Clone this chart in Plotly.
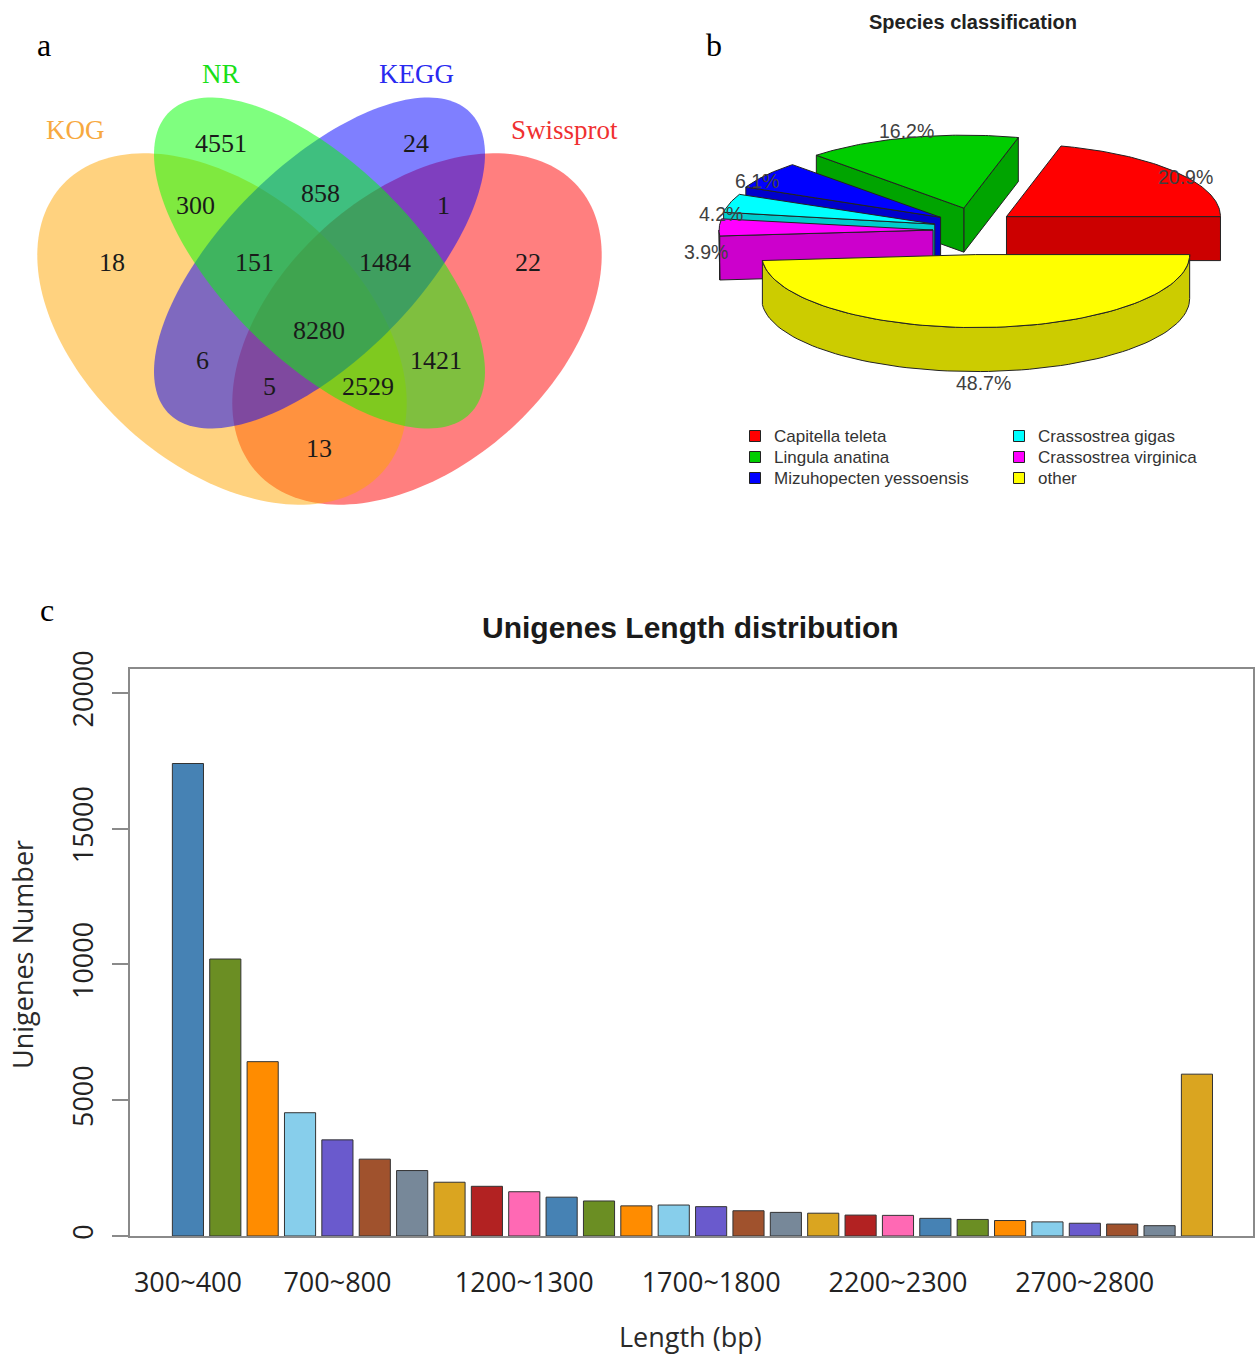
import numpy as np
import plotly.graph_objects as go

W, H = 1257, 1357

# ---------------- data ----------------
# (a) Venn diagram of annotated unigenes
venn_sets = ["KOG", "NR", "KEGG", "Swissprot"]
venn_regions = ["NR", "KEGG", "KOG&NR", "NR&KEGG", "KEGG&Swissprot",
                "KOG", "KOG&NR&KEGG", "NR&KEGG&Swissprot", "Swissprot",
                "KOG&NR&KEGG&Swissprot", "KOG&KEGG", "NR&Swissprot",
                "KOG&KEGG&Swissprot", "KOG&NR&Swissprot", "KOG&Swissprot"]
venn_counts = [4551, 24, 300, 858, 1, 18, 151, 1484, 22, 8280, 6, 1421, 5, 2529, 13]

# (b) species classification
species = ["Capitella teleta", "Lingula anatina", "Mizuhopecten yessoensis",
           "Crassostrea gigas", "Crassostrea virginica", "other"]
species_pct = [20.9, 16.2, 6.1, 4.2, 3.9, 48.7]

# (c) unigene length distribution
length_bins = [f"{s}~{s + 100}" for s in range(300, 3000, 100)] + [">3000"]
unigene_counts = [17400, 10200, 6420, 4540, 3540, 2830, 2410, 1980, 1830, 1630,
                  1430, 1290, 1110, 1140, 1080, 930, 870, 840, 770, 760,
                  650, 610, 570, 520, 470, 440, 380, 5960]
shown_ticks = ["300~400", "700~800", "1200~1300", "1700~1800", "2200~2300", "2700~2800"]
y_ticks = [0, 5000, 10000, 15000, 20000]

# ---------------- styles ----------------
bar_palette = ["#4682B4", "#6B8E23", "#FF8C00", "#87CEEB", "#6A5ACD",
               "#A0522D", "#778899", "#DAA520", "#B22222", "#FF69B4"]
venn_fill = {"KOG": "rgba(255,165,0,0.5)", "NR": "rgba(0,255,0,0.5)",
             "KEGG": "rgba(0,0,255,0.5)", "Swissprot": "rgba(255,0,0,0.5)"}
venn_text_col = {"KOG": "#F7A940", "NR": "#18E018", "KEGG": "#2A2AF0", "Swissprot": "#F03030"}
pie_top = ["#FF0000", "#00CD00", "#0000FF", "#00FFFF", "#FF00FF", "#FFFF00"]
pie_side = ["#CC0000", "#00A400", "#0000CC", "#00CCCC", "#CC00CC", "#CCCC00"]

SERIF = "Liberation Serif"
SANS = "Liberation Sans"
OPEN = "Open Sans"

fig = go.Figure()
annotations = []
shapes = []

# ---------------- (a) Venn diagram ----------------
# ellipse layout on the page: centre x, centre y, semi-major, semi-minor, tilt (deg, y down)
venn_ellipses = {
    "KOG": (222, 329, 215, 137, 41.6),
    "NR": (319.5, 263, 213, 97, 45),
    "KEGG": (319.5, 263, 213, 97, -45),
    "Swissprot": (417, 329, 215, 137, -41.6),
}


def ellipse_path(cx, cy, a, b, tilt, n=180):
    t = np.linspace(0, 2 * np.pi, n)
    r = np.deg2rad(tilt)
    x = cx + a * np.cos(t) * np.cos(r) - b * np.sin(t) * np.sin(r)
    y = cy + a * np.cos(t) * np.sin(r) + b * np.sin(t) * np.cos(r)
    pts = [f"{u:.2f},{v:.2f}" for u, v in zip(x, y)]
    return "M " + " L ".join(pts) + " Z"


for name in ["Swissprot", "KOG", "KEGG", "NR"]:
    shapes.append(dict(type="path", path=ellipse_path(*venn_ellipses[name]),
                       xref="x3", yref="y3", fillcolor=venn_fill[name],
                       line=dict(width=0), layer="below"))

venn_label_pos = {
    "NR": (221, 143), "KEGG": (416, 143), "KOG&NR": (195, 205), "NR&KEGG": (320, 193),
    "KEGG&Swissprot": (443, 205), "KOG": (112, 262), "KOG&NR&KEGG": (254, 262),
    "NR&KEGG&Swissprot": (385, 262), "Swissprot": (528, 262),
    "KOG&NR&KEGG&Swissprot": (319, 330), "KOG&KEGG": (202, 360),
    "NR&Swissprot": (436, 360), "KOG&KEGG&Swissprot": (269, 386),
    "KOG&NR&Swissprot": (368, 386), "KOG&Swissprot": (319, 448),
}
for reg, cnt in zip(venn_regions, venn_counts):
    x, y = venn_label_pos[reg]
    annotations.append(dict(x=x, y=y, xref="x3", yref="y3", text=str(cnt), showarrow=False,
                            font=dict(family=SERIF, size=26, color="#1a1a1a")))

venn_set_pos = {"KOG": (75, 130), "NR": (221, 74), "KEGG": (416, 74), "Swissprot": (564, 130)}
for s in venn_sets:
    x, y = venn_set_pos[s]
    annotations.append(dict(x=x, y=y, xref="x3", yref="y3", text=s, showarrow=False,
                            font=dict(family=SERIF, size=27, color=venn_text_col[s])))

# ---------------- (b) 3D exploded pie ----------------
PIE = dict(cx=974, cy=231, a=214, b=73, h=44, ex=41, ey=23.6)


def rim(cx, cy, t):
    t = np.deg2rad(t)
    return cx + PIE["a"] * np.cos(t), cy - PIE["b"] * np.sin(t)


angles = np.concatenate([[0], np.cumsum(species_pct) / sum(species_pct) * 360])
slices = []
for i in range(len(species)):
    s, e = angles[i], angles[i + 1]
    mid = np.deg2rad((s + e) / 2)
    cx = PIE["cx"] + PIE["ex"] * np.cos(mid)
    cy = PIE["cy"] - PIE["ey"] * np.sin(mid)
    slices.append((np.sin(mid), i, s, e, cx, cy))

# paint from back to front
for _, i, s, e, cx, cy in sorted(slices, key=lambda v: -v[0]):
    h = PIE["h"]
    polys = []
    # radial faces that face the viewer
    for ang, vis in ((s, np.cos(np.deg2rad(s)) > 0), (e, np.cos(np.deg2rad(e)) < 0)):
        if vis:
            rx, ry = rim(cx, cy, ang)
            polys.append(([cx, rx, rx, cx, cx], [cy, ry, ry + h, cy + h, cy]))
    # outer curved wall on the front half
    lo, hi = max(s, 180), min(e, 360)
    if hi > lo:
        t = np.linspace(lo, hi, 80)
        ux, uy = rim(cx, cy, t)
        px = np.concatenate([ux, ux[::-1], ux[:1]])
        py = np.concatenate([uy, uy[::-1] + h, uy[:1]])
        polys.append((px, py))
    for px, py in polys:
        fig.add_trace(go.Scatter(x=px, y=py, xaxis="x2", yaxis="y2", mode="lines",
                                 fill="toself", fillcolor=pie_side[i],
                                 line=dict(color="#222222", width=1),
                                 hoverinfo="skip", showlegend=False))
    t = np.linspace(s, e, 80)
    ux, uy = rim(cx, cy, t)
    fig.add_trace(go.Scatter(x=np.concatenate([[cx], ux, [cx]]),
                             y=np.concatenate([[cy], uy, [cy]]),
                             xaxis="x2", yaxis="y2", mode="lines", fill="toself",
                             fillcolor=pie_top[i], line=dict(color="#222222", width=1),
                             hoverinfo="skip", showlegend=False))

pct_label_pos = [(1185, 177), (906, 131), (757, 181), (721, 214), (706, 252), (983, 383)]
for p, (x, y) in zip(species_pct, pct_label_pos):
    annotations.append(dict(x=x, y=y, xref="x2", yref="y2", text=f"{p}%", showarrow=False,
                            font=dict(family=SANS, size=19.5, color="#404040")))

annotations.append(dict(x=973, y=22, xref="x2", yref="y2", text="<b>Species classification</b>",
                        showarrow=False, font=dict(family=SANS, size=20, color="#222222")))

# legend, two columns
leg_pos = [(755, 436), (755, 457), (755, 478), (1019, 436), (1019, 457), (1019, 478)]
fig.add_trace(go.Scatter(x=[p[0] for p in leg_pos], y=[p[1] for p in leg_pos],
                         xaxis="x2", yaxis="y2", mode="markers",
                         marker=dict(symbol="square", size=11, color=pie_top,
                                     line=dict(color="#222222", width=1)),
                         hoverinfo="skip", showlegend=False))
for name, (x, y) in zip(species, leg_pos):
    annotations.append(dict(x=x + 17, y=y, xref="x2", yref="y2", text=name, showarrow=False,
                            xanchor="left", font=dict(family=SANS, size=17, color="#333333")))

# ---------------- (c) bar chart ----------------
fig.add_trace(go.Bar(x=length_bins, y=unigene_counts,
                     marker=dict(color=[bar_palette[k % len(bar_palette)]
                                        for k in range(len(length_bins))],
                                 line=dict(color="#333333", width=1)),
                     hoverinfo="skip", showlegend=False))

annotations += [
    dict(x=690, y=627, xref="x3", yref="y3", text="<b>Unigenes Length distribution</b>",
         showarrow=False, font=dict(family=SANS, size=30, color="#1a1a1a")),
    dict(x=22, y=955, xref="x3", yref="y3", text="Unigenes Number", textangle=-90,
         showarrow=False, font=dict(family=OPEN, size=27, color="#2a2a2a")),
    dict(x=690, y=1336, xref="x3", yref="y3", text="Length (bp)",
         showarrow=False, font=dict(family=OPEN, size=27, color="#2a2a2a")),
]

# panel letters
for letter, (x, y) in zip("abc", [(44, 45), (714, 45), (47, 610)]):
    annotations.append(dict(x=x, y=y, xref="x3", yref="y3", text=letter, showarrow=False,
                            font=dict(family=SERIF, size=32, color="#000000")))

frame = "#8a8a8a"
fig.update_layout(
    width=W, height=H, margin=dict(l=0, r=0, t=0, b=0, autoexpand=False),
    paper_bgcolor="white", plot_bgcolor="rgba(0,0,0,0)",
    bargap=0.167,
    xaxis=dict(domain=[130 / W, 1253 / W], range=[-1.55, 28.5], type="category",
               tickvals=shown_ticks, ticktext=shown_ticks, showline=True, mirror=True,
               linecolor=frame, linewidth=2, ticks="outside", ticklen=22,
               tickcolor="rgba(0,0,0,0)", showgrid=False, zeroline=False, automargin=False,
               tickfont=dict(family=OPEN, size=27, color="#222222"), fixedrange=True),
    yaxis=dict(domain=[1 - 1236 / H, 1 - 669 / H], range=[0, 20880],
               tickvals=y_ticks, ticktext=[str(v) for v in y_ticks], tickangle=-90,
               showline=True, mirror=True, linecolor=frame, linewidth=2,
               ticks="outside", ticklen=16, tickwidth=2, tickcolor=frame,
               ticklabelstandoff=8, automargin=False,
               showgrid=False, zeroline=False,
               tickfont=dict(family=OPEN, size=27, color="#222222"), fixedrange=True),
    xaxis2=dict(domain=[650 / W, 1], range=[650, W], visible=False, fixedrange=True,
                automargin=False),
    yaxis2=dict(domain=[1 - 520 / H, 1], range=[520, 0], visible=False, fixedrange=True,
                automargin=False),
    xaxis3=dict(domain=[0, 1], range=[0, W], visible=False, fixedrange=True, automargin=False),
    yaxis3=dict(domain=[0, 1], range=[H, 0], visible=False, fixedrange=True, automargin=False),
    shapes=shapes, annotations=annotations,
)

fig.write_html("out.html")
